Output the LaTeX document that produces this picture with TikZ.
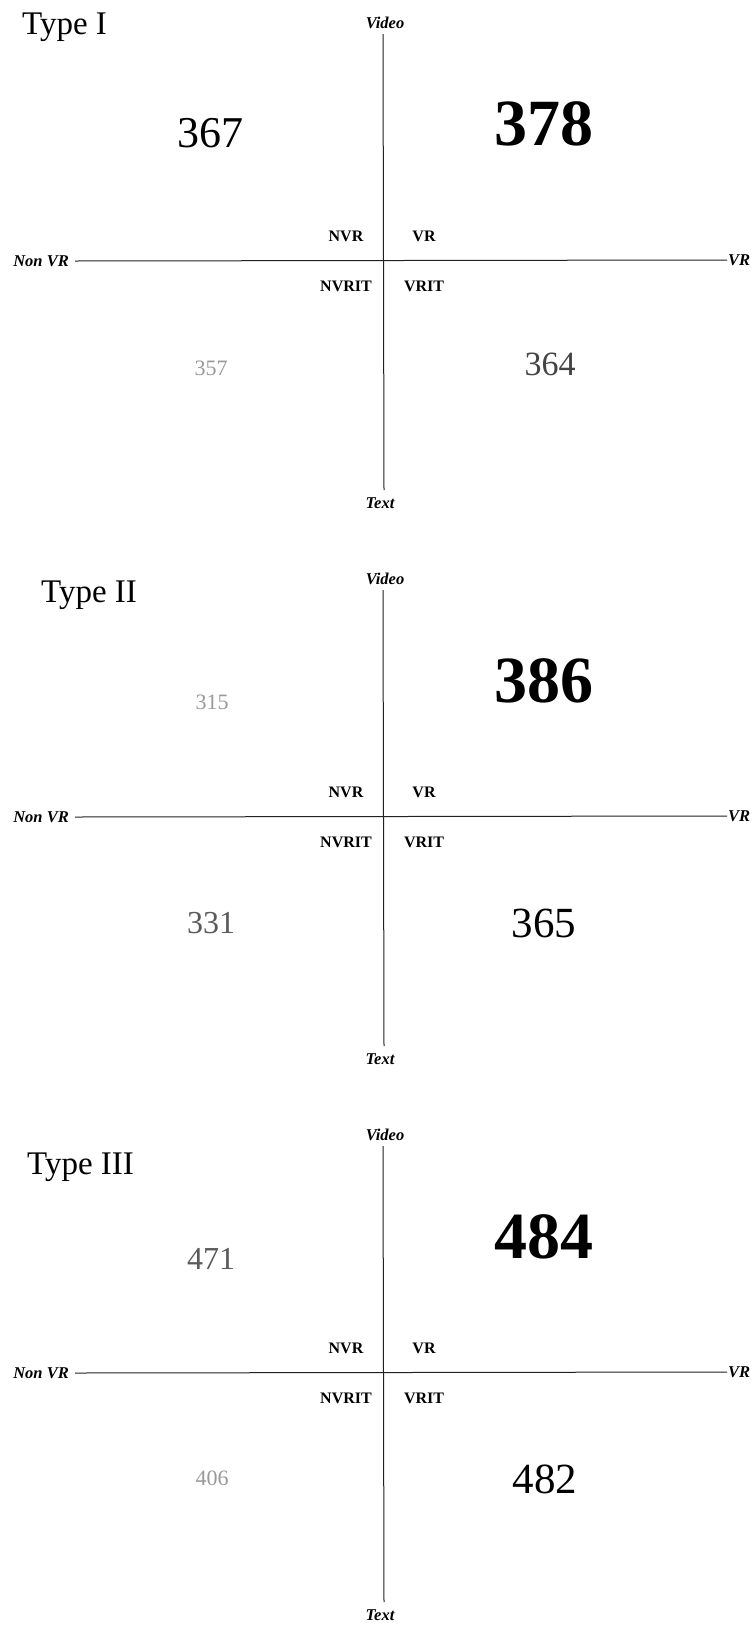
\documentclass[tikz,border=0pt]{standalone}
\usepackage{fontspec}
\setmainfont{Liberation Serif}
\usepackage{xcolor}
\usetikzlibrary{positioning}

\definecolor{axisgray}{HTML}{202020}
\definecolor{lightnum}{HTML}{999999}
\definecolor{midnum}{HTML}{5A5A5A}
\definecolor{darknum}{HTML}{444444}

\begin{document}
\begin{tikzpicture}[x=1pt, y=-1pt,
    axis line/.style={line width=1pt, draw=axisgray},
    axis label/.style={font=\fontsize{16.5}{17}\selectfont\bfseries\itshape, inner sep=0pt},
    quad label/.style={font=\fontsize{16}{17}\selectfont\bfseries, inner sep=0pt},
    type label/.style={font=\fontsize{33}{34}\selectfont, anchor=base west, inner sep=0pt},
    count/.style={anchor=base, inner sep=0pt, font=\fontsize{#1}{#1}\selectfont},
    best/.style={anchor=base, inner sep=0pt, font=\fontsize{66}{66}\selectfont\bfseries}]

\useasboundingbox (0,0) rectangle (753,1628);

% Three panels: axes and quadrant labels
\foreach \k/\tname/\tx/\ty in {0/I/22/34, 1/II/41/46, 2/III/27/62} {
    \pgfmathsetmacro\dy{556*\k}
    \begin{scope}[shift={(0,\dy)}]
        \node[type label] (type\k) at (\tx,\ty) {Type \tname};

        % Axes
        \node[axis label] (video\k) at (385,23) {Video};
        \node[axis label] (text\k) at (380,503) {Text};
        \node[axis label, anchor=east] (nonvr\k) at (69,261) {Non VR};
        \node[axis label, anchor=west] (vr\k) at (728,260) {VR};
        \coordinate (vtop\k) at (383,34);
        \coordinate (vbot\k) at (384,490);
        \coordinate (hleft\k) at (75,261);
        \coordinate (hright\k) at (727,260);
        \draw[axis line] (vtop\k) -- (vbot\k);
        \draw[axis line] (hleft\k) -- (hright\k);

        % Quadrant labels
        \node[quad label] (nvr\k) at (346,236) {NVR};
        \node[quad label] (vrq\k) at (424,236) {VR};
        \node[quad label] (nvrit\k) at (346,286) {NVRIT};
        \node[quad label] (vrit\k) at (424,286) {VRIT};
    \end{scope}
}

% Type I counts
\node[count=44] (one367) at (210,147) {367};
\node[best] (one378) at (544,145) {378};
\node[count=22, text=lightnum] (one357) at (211,375) {357};
\node[count=34, text=darknum] (one364) at (550,375) {364};

% Type II counts
\node[count=22, text=lightnum] (two315) at (212,709) {315};
\node[best] (two386) at (544,702) {386};
\node[count=32, text=midnum] (two331) at (211,933) {331};
\node[count=43] (two365) at (544,937) {365};

% Type III counts
\node[count=32, text=midnum] (three471) at (211,1269) {471};
\node[best] (three484) at (544,1258) {484};
\node[count=22, text=lightnum] (three406) at (212,1485) {406};
\node[count=43] (three482) at (545,1493) {482};
\end{tikzpicture}
\end{document}
